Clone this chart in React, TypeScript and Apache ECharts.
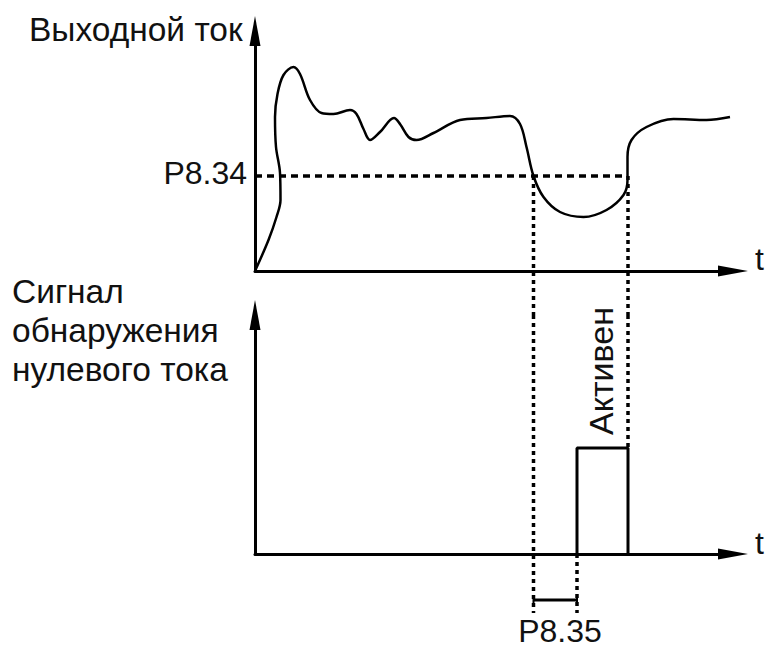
import React, { useEffect, useRef } from 'react';
import * as echarts from 'echarts';

// Output current curve (time, current)
const curveT = [0, 2.7, 4.3, 5.1, 5.0, 4.2, 4.0, 4.5, 5.7, 7.7, 9.0, 11.0, 13.3, 15.7, 19.0, 20.3, 21.7, 23.0, 25.0, 27.8, 29.0, 30.7, 32.3, 35.7, 41.0, 46.3, 51.0, 53.0, 54.3, 55.7, 57.7, 61.0, 65.7, 70.3, 73.7, 74.5, 74.5, 75.3, 78.3, 83.7, 90.3, 95.0];
const curveI = [0, 15.5, 27, 35.5, 49, 62, 77, 88.5, 98, 102, 98.5, 85.5, 79, 78.5, 80.5, 78.5, 71, 65.5, 69.5, 76.5, 73.5, 67, 65.5, 69, 75.5, 76.5, 77.5, 73.5, 62, 47.5, 37, 29.5, 27, 30.5, 38, 45.5, 57, 65.5, 72, 76, 75.5, 77];

// Threshold and timing
const levelP834 = 47.5;
const tBelow = 55.7;      // current falls below P8.34
const tSignalOn = 64.4;   // after delay P8.35 the signal turns on
const tRecover = 74.6;    // current rises above P8.34
const signalHigh = 53;

// Axis ranges
const tMax = 95.6;
const topYMax = 120;
const botYMax = 119.5;
const topGapBottom = -22;   // extends dashed lines down to the lower chart
const botBelow = -29.5;     // lower end of dashed guides below the axis
const delayBarY = -23;

const labels = {
  topAxis: 'Выходной ток',
  level: 'P8.34',
  botAxis: ['Сигнал', 'обнаружения', 'нулевого тока'],
  delay: 'P8.35',
  active: 'Активен',
  time: 't',
};

const FAMILY = '"Liberation Sans", Arial, sans-serif';
const FONT_LAT = '32px ' + FAMILY;
const FONT_CYR = '33.5px ' + FAMILY;

export default function App() {
  const ref = useRef<HTMLDivElement>(null);
  useEffect(() => {
    if (!ref.current) return;
    const chart = echarts.init(ref.current, undefined, { renderer: 'svg' });
    const axisLine = {
      show: true,
      onZero: false,
      symbol: ['none', 'triangle'],
      symbolSize: [11, 30],
      lineStyle: { color: '#000', width: 3 },
    };
    const hidden = {
      axisTick: { show: false },
      axisLabel: { show: false },
      splitLine: { show: false },
    };
    const black = '#000';
    const dashedV = { color: black, width: 3.5, type: [4, 4] as any };
    const dashedH = { color: black, width: 3.5, type: [7, 5] as any };
    const seg = (xi: number, data: number[][], lineStyle: any, extra: any = {}) => ({
      type: 'line',
      xAxisIndex: xi,
      yAxisIndex: xi,
      data,
      symbol: 'none',
      clip: false,
      silent: true,
      lineStyle,
      ...extra,
    });
    const curve = curveT.map((t, i) => [t, curveI[i]]);
    const txt = (text: string, x: number, y: number, align: string, font: string, extra: any = {}) => ({
      type: 'text',
      x,
      y,
      style: { text, font, fill: '#111', textAlign: align, textVerticalAlign: 'middle' },
      ...extra,
    });

    chart.setOption({
      animation: false,
      backgroundColor: '#fff',
      grid: [
        { left: 255, width: 478, top: 31, height: 240 },
        { left: 255, width: 478, top: 315, height: 239 },
      ],
      xAxis: [
        { type: 'value', gridIndex: 0, min: 0, max: tMax, axisLine, ...hidden },
        { type: 'value', gridIndex: 1, min: 0, max: tMax, axisLine, ...hidden },
      ],
      yAxis: [
        { type: 'value', gridIndex: 0, min: 0, max: topYMax, axisLine, ...hidden },
        { type: 'value', gridIndex: 1, min: 0, max: botYMax, axisLine, ...hidden },
      ],
      series: [
        seg(0, curve, { color: black, width: 2.5 }, { smooth: 0.35, clip: true }),
        seg(0, [[0, levelP834], [tRecover, levelP834]], dashedH),
        seg(0, [[tBelow, levelP834], [tBelow, topGapBottom]], dashedV),
        seg(0, [[tRecover, levelP834], [tRecover, topGapBottom]], dashedV),
        seg(1, [[tBelow, botYMax], [tBelow, botBelow]], dashedV),
        seg(1, [[tRecover, botYMax], [tRecover, signalHigh]], dashedV),
        seg(1, [[tSignalOn, 0], [tSignalOn, botBelow]], dashedV),
        seg(1, [[tSignalOn, 0], [tSignalOn, signalHigh], [tRecover, signalHigh], [tRecover, 0]], { color: black, width: 3 }),
        seg(1, [[tBelow, delayBarY], [tSignalOn, delayBarY]], { color: black, width: 3 }, {
          symbol: 'rect',
          symbolSize: [2, 8],
          showSymbol: true,
          itemStyle: { color: black },
        }),
      ],
      graphic: [
        txt(labels.topAxis, 29, 29, 'left', FONT_CYR),
        txt(labels.level, 247, 173, 'right', FONT_LAT),
        txt(labels.botAxis[0], 12, 291, 'left', FONT_CYR),
        txt(labels.botAxis[1], 12, 330, 'left', FONT_CYR),
        txt(labels.botAxis[2], 12, 369, 'left', FONT_CYR),
        txt(labels.delay, 560, 631, 'center', FONT_LAT),
        txt(labels.active, 601, 371, 'center', '34px ' + FAMILY, { rotation: Math.PI / 2 }),
        txt(labels.time, 755, 259, 'left', FONT_LAT),
        txt(labels.time, 755, 543, 'left', FONT_LAT),
      ],
    });
    return () => chart.dispose();
  }, []);
  return (
    <div
      ref={ref}
      style={{ position: 'fixed', left: 0, top: 0, width: 767, height: 648, background: '#fff' }}
    />
  );
}
